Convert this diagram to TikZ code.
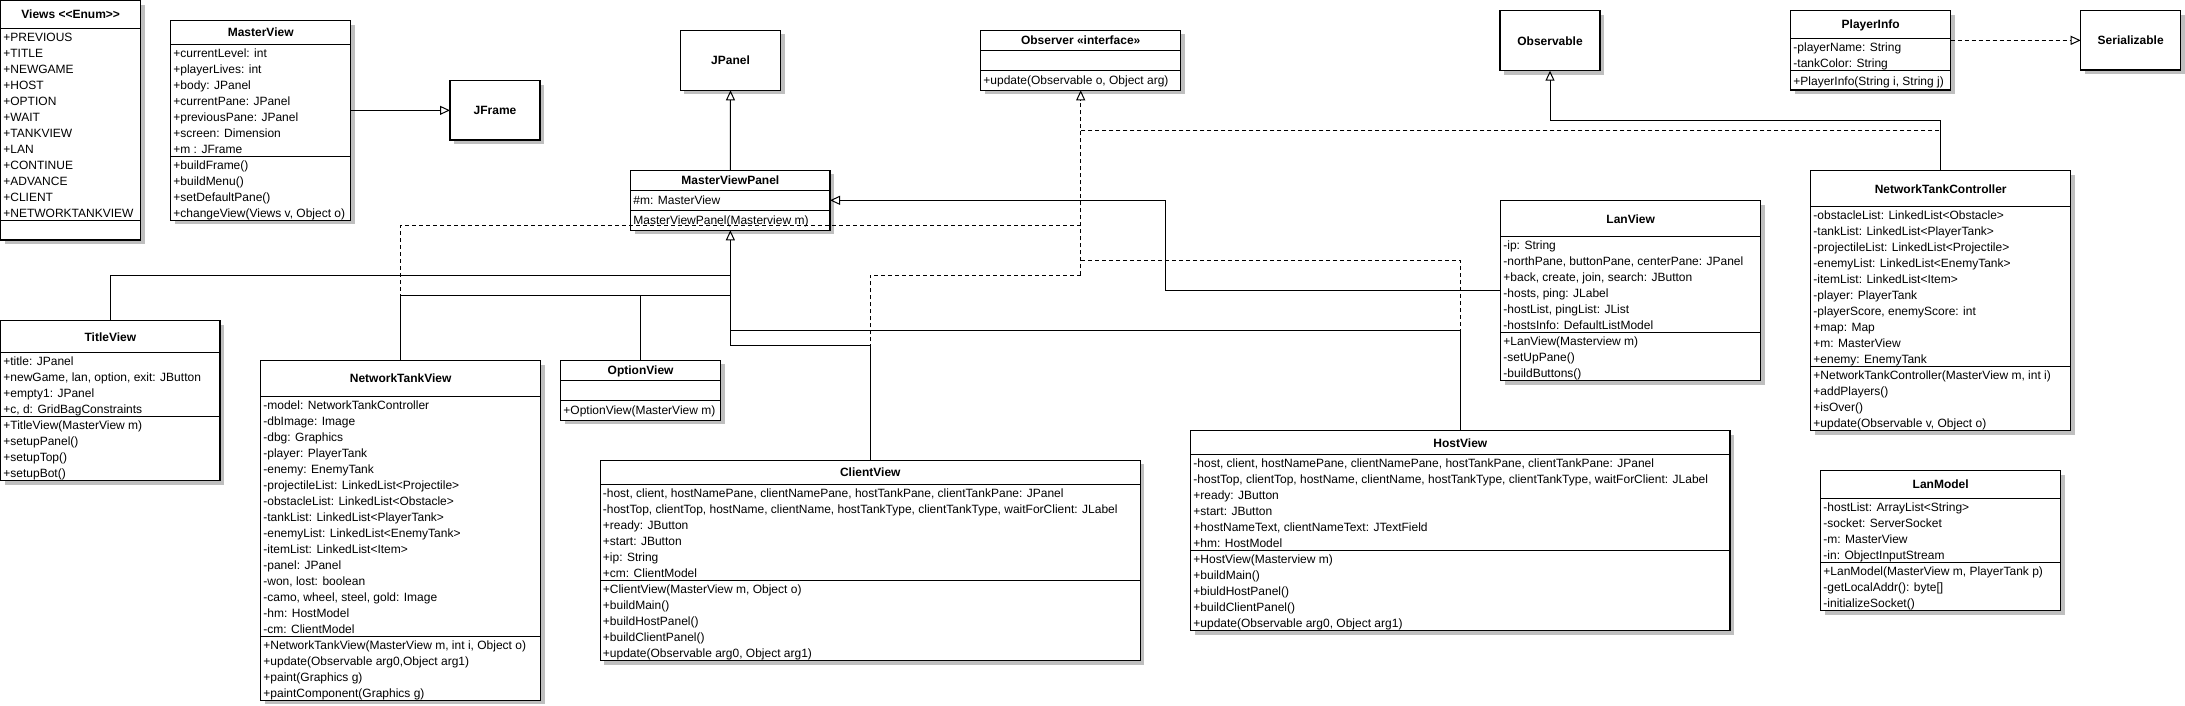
\documentclass[tikz,border=0pt]{standalone}
\usepackage{fontspec}
\setmainfont{Liberation Sans}
\usetikzlibrary{calc,arrows.meta,shadows}
\tikzset{
  classbox/.style={draw, line width=1.2pt, fill=white, inner sep=0pt, outer sep=0pt,
    drop shadow={shadow xshift=4pt, shadow yshift=-4pt, fill=black!25, opacity=1}},
  divider/.style={line width=1.2pt},
  titletext/.style={font=\fontsize{12}{14}\selectfont\bfseries, inner sep=0pt},
  rowtext/.style={font=\fontsize{12}{16}\selectfont, inner sep=0pt},
  link/.style={line width=1pt},
  dlink/.style={line width=1pt, dash pattern=on 4pt off 3pt},
  inh/.style={line width=1pt, -{Triangle[open,length=10pt,width=9pt]}},
  real/.style={inh, dash pattern=on 4pt off 3pt},
}
% #1 name, #2 left, #3 top, #4 width, #5 height, #6 divider1, #7 divider2, #8 title
\newcommand\umlclass[8]{%
  \node[classbox, minimum width=#4pt, minimum height=#5pt, anchor=north west] (#1) at (#2,#3) {};
  \node[titletext, anchor=base] (#1-t) at ($(#1.north)+(0,#6/2+4.3)$) {#8};
  \draw[divider] ($(#1.north west)+(0,#6)$) -- ($(#1.north east)+(0,#6)$);
  \draw[divider] ($(#1.north west)+(0,#7)$) -- ($(#1.north east)+(0,#7)$);
}
% #1 name, #2 left, #3 top, #4 width, #5 height, #6 title
\newcommand\simplebox[6]{%
  \node[classbox, minimum width=#4pt, minimum height=#5pt, anchor=north west] (#1) at (#2,#3) {};
  \node[titletext, anchor=base] (#1-t) at ($(#1.center)+(0,4.3)$) {#6};
}
% #1 class, #2 suffix, #3 offset of section top, #4 list
\newcommand\rowsat[4]{%
  \foreach \t [count=\i] in {#4} {
    \node[rowtext, anchor=base west] (#1-#2\i) at ($(#1.north west)+(2.5,#3+12.7+16*\i-16)$) {\t};
  }
}
\begin{document}
\begin{tikzpicture}[x=1pt,y=-1pt]
\fill[white] (0,0) rectangle (2185,705);
\useasboundingbox (0,0) rectangle (2185,705);

% Views enum
\umlclass{views}{0.7}{0.7}{140}{239.3}{27.6}{219.6}{Views <{}<Enum>{}>}
\rowsat{views}{a}{27.6}{+PREVIOUS,+TITLE,+NEWGAME,+HOST,+OPTION,+WAIT,+TANKVIEW,+LAN,+CONTINUE,+ADVANCE,+CLIENT,+NETWORKTANKVIEW}

% MasterView
\umlclass{mv}{170.7}{20.7}{180}{199.6}{23.6}{135.6}{MasterView}
\rowsat{mv}{a}{23.6}{+currentLevel: int,+playerLives: int,+body: JPanel,+currentPane: JPanel,+previousPane: JPanel,+screen: Dimension,+m : JFrame}
\rowsat{mv}{m}{135.6}{+buildFrame(),+buildMenu(),+setDefaultPane(),{+changeView(Views v, Object o)}}

\simplebox{jf}{450}{80.7}{90}{59.3}{JFrame}
\simplebox{jp}{680.3}{30.3}{100.4}{60}{JPanel}

% MasterViewPanel
\umlclass{mvp}{630.7}{170.3}{199.3}{60}{20}{40}{MasterViewPanel}
\rowsat{mvp}{a}{21.5}{\#m: MasterView}
\rowsat{mvp}{m}{41.5}{{MasterViewPanel(Masterview m)}}

% Observer
\umlclass{obs}{980.7}{30.3}{200}{60}{20}{40}{Observer «interface»}
\rowsat{obs}{m}{41.5}{{+update(Observable o, Object arg)}}

\simplebox{obl}{1500}{10.7}{100}{60}{Observable}

% PlayerInfo
\umlclass{pi}{1790.7}{10.7}{160}{79.3}{27.6}{59.6}{PlayerInfo}
\rowsat{pi}{a}{27.6}{-playerName: String,-tankColor: String}
\rowsat{pi}{m}{62}{{+PlayerInfo(String i, String j)}}

\simplebox{ser}{2080.7}{10.7}{100}{59.3}{Serializable}

% NetworkTankController
\umlclass{ntc}{1810.7}{170.7}{260}{260}{36}{196}{NetworkTankController}
\rowsat{ntc}{a}{36}{-obstacleList: LinkedList<Obstacle>,-tankList: LinkedList<PlayerTank>,-projectileList: LinkedList<Projectile>,-enemyList: LinkedList<EnemyTank>,-itemList: LinkedList<Item>,-player: PlayerTank,{-playerScore, enemyScore: int},+map: Map,+m: MasterView,+enemy: EnemyTank}
\rowsat{ntc}{m}{196}{{+NetworkTankController(MasterView m, int i)},+addPlayers(),+isOver(),{+update(Observable v, Object o)}}

% LanView
\umlclass{lv}{1500.7}{200.7}{260}{180}{36}{132}{LanView}
\rowsat{lv}{a}{36}{-ip: String,{-northPane, buttonPane, centerPane: JPanel},{+back, create, join, search: JButton},{-hosts, ping: JLabel},{-hostList, pingList: JList},-hostsInfo: DefaultListModel}
\rowsat{lv}{m}{132}{+LanView(Masterview m),-setUpPane(),-buildButtons()}

% LanModel
\umlclass{lm}{1820.7}{470.7}{240}{140}{27.6}{91.6}{LanModel}
\rowsat{lm}{a}{27.6}{-hostList: ArrayList<String>,-socket: ServerSocket,-m: MasterView,-in: ObjectInputStream}
\rowsat{lm}{m}{91.6}{{+LanModel(MasterView m, PlayerTank p)},-getLocalAddr(): byte[],-initializeSocket()}

% TitleView
\umlclass{tv}{0.7}{320.7}{219.3}{160}{32}{96}{TitleView}
\rowsat{tv}{a}{32}{+title: JPanel,{+newGame, lan, option, exit: JButton},+empty1: JPanel,{+c, d: GridBagConstraints}}
\rowsat{tv}{m}{96}{+TitleView(MasterView m),+setupPanel(),+setupTop(),+setupBot()}

% NetworkTankView
\umlclass{ntv}{260.7}{360.7}{280}{339.6}{35.6}{275.6}{NetworkTankView}
\rowsat{ntv}{a}{35.6}{-model: NetworkTankController,-dbImage: Image,-dbg: Graphics,-player: PlayerTank,-enemy: EnemyTank,-projectileList: LinkedList<Projectile>,-obstacleList: LinkedList<Obstacle>,-tankList: LinkedList<PlayerTank>,-enemyList: LinkedList<EnemyTank>,-itemList: LinkedList<Item>,-panel: JPanel,{-won, lost: boolean},{-camo, wheel, steel, gold: Image},-hm: HostModel,-cm: ClientModel}
\rowsat{ntv}{m}{275.6}{{+NetworkTankView(MasterView m, int i, Object o)},{+update(Observable arg0,Object arg1)},+paint(Graphics g),+paintComponent(Graphics g)}

% OptionView
\umlclass{ov}{560.7}{360.3}{159.8}{60}{20}{40}{OptionView}
\rowsat{ov}{m}{41.5}{+OptionView(MasterView m)}

% ClientView
\umlclass{cv}{600.2}{460.3}{540.2}{200.4}{24.4}{120.4}{ClientView}
\rowsat{cv}{a}{24.4}{{-host, client, hostNamePane, clientNamePane, hostTankPane, clientTankPane: JPanel},{-hostTop, clientTop, hostName, clientName, hostTankType, clientTankType, waitForClient: JLabel},+ready: JButton,+start: JButton,+ip: String,+cm: ClientModel}
\rowsat{cv}{m}{120.4}{{+ClientView(MasterView m, Object o)},+buildMain(),+buildHostPanel(),+buildClientPanel(),{+update(Observable arg0, Object arg1)}}

% HostView
\umlclass{hv}{1190.7}{430.7}{539.3}{200}{24}{120}{HostView}
\rowsat{hv}{a}{24}{{-host, client, hostNamePane, clientNamePane, hostTankPane, clientTankPane: JPanel},{-hostTop, clientTop, hostName, clientName, hostTankType, clientTankType, waitForClient: JLabel},+ready: JButton,+start: JButton,{+hostNameText, clientNameText: JTextField},+hm: HostModel}
\rowsat{hv}{m}{120}{+HostView(Masterview m),+buildMain(),+biuldHostPanel(),+buildClientPanel(),{+update(Observable arg0, Object arg1)}}

% ---- connectors ----
\draw[inh] (mv.east |- jf.west) -- (jf.west);
\draw[inh] (mvp.north) -- (jp.south);

% generalisation tree to MasterViewPanel
\draw[link] (tv.north) |- (mvp.south |- 0,275.3);
\draw[link] (ntv.north) |- (mvp.south |- 0,295.3);
\draw[link] (ov.north) -- (ov.north |- 0,295.3);
\draw[link] (hv.north) |- (mvp.south |- 0,330.3);
\draw[link] (cv.north) |- (mvp.south |- 0,345.7);
\draw[inh] (mvp.south |- 0,345.7) -- (mvp.south);
\draw[inh] (lv.west) -| (1165.2,0 |- mvp.east) -- (mvp.east);

% realisations of Observer
\draw[dlink] (ntv.north) |- (obs.south |- 0,225);
\draw[dlink] (cv.north) |- (obs.south |- 0,275.3);
\draw[dlink] (hv.north) |- (obs.south |- 0,260.3);
\draw[dlink] (ntc.north) |- (obs.south |- 0,130);
\draw[real] (obs.south |- 0,275.3) -- (obs.south);

% Observable
\draw[inh] (ntc.north) |- (obl.south |- 0,120.3) -- (obl.south);

% Serializable
\draw[real] (pi.east |- ser.west) -- (ser.west);
\end{tikzpicture}
\end{document}
